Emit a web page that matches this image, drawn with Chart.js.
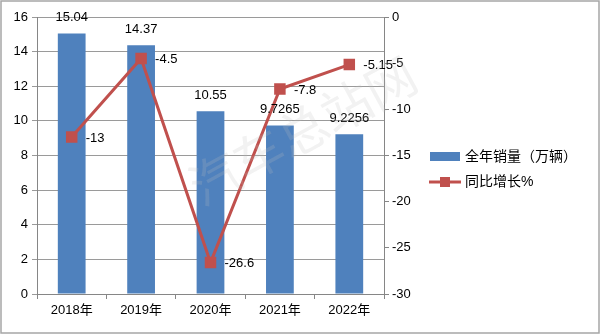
<!DOCTYPE html>
<html lang="zh">
<head>
<meta charset="UTF-8">
<script src="https://cdn.jsdelivr.net/npm/chart.js@4.4.0/dist/chart.umd.min.js"></script>
<style>
  html, body { margin: 0; padding: 0; background: #fff; }
  .wrap { width: 600px; height: 334px; position: relative; }
</style>
</head>
<body>
<div class="wrap"><canvas id="c" width="600" height="334"></canvas></div>
<script>
  // 数据
  const years = ['2018年', '2019年', '2020年', '2021年', '2022年'];
  const sales = [15.04, 14.37, 10.55, 9.7265, 9.2256];
  const growth = [-13, -4.5, -26.6, -7.8, -5.15];
  const salesName = '全年销量（万辆）';
  const growthName = '同比增长%';

  const FONT = "'Liberation Sans', 'Noto Sans CJK SC', sans-serif";
  const BLUE = '#4F81BD';
  const RED = '#C0504D';

  // 数值标签、图例、水印、边框
  const decor = {
    id: 'decor',
    beforeDraw(chart) {
      const ctx = chart.ctx;
      ctx.save();
      ctx.fillStyle = '#fff';
      ctx.fillRect(0, 0, chart.width, chart.height);
      ctx.restore();
    },
    afterDatasetsDraw(chart) {
      const ctx = chart.ctx;
      ctx.save();
      ctx.font = '13px ' + FONT;
      ctx.fillStyle = '#000';
      // 柱状标签
      chart.getDatasetMeta(0).data.forEach((bar, i) => {
        ctx.textAlign = 'center';
        ctx.textBaseline = 'middle';
        ctx.fillText(String(sales[i]), bar.x, bar.y - 16);
      });
      // 折线标签
      chart.getDatasetMeta(1).data.forEach((pt, i) => {
        ctx.textAlign = 'left';
        ctx.textBaseline = 'middle';
        ctx.fillText(String(growth[i]), pt.x + 14, pt.y + 1);
      });

      // 水印
      ctx.save();
      ctx.translate(305, 135);
      ctx.rotate(-0.5);
      ctx.font = '50px ' + FONT;
      ctx.fillStyle = 'rgba(190,190,190,0.2)';
      ctx.textAlign = 'center';
      ctx.textBaseline = 'middle';
      ctx.fillText('汽车总站网', 0, 0);
      ctx.restore();

      // 图例
      ctx.fillStyle = BLUE;
      ctx.fillRect(430, 152, 30, 9);
      ctx.strokeStyle = RED;
      ctx.lineWidth = 3;
      ctx.beginPath();
      ctx.moveTo(429, 182);
      ctx.lineTo(461, 182);
      ctx.stroke();
      ctx.fillStyle = RED;
      ctx.fillRect(440, 177, 10, 10);
      ctx.fillStyle = '#000';
      ctx.font = '14px ' + FONT;
      ctx.textAlign = 'left';
      ctx.textBaseline = 'middle';
      ctx.fillText(salesName, 465, 157);
      ctx.fillText(growthName, 465, 182);

      // 外框
      ctx.strokeStyle = '#a6a6a6';
      ctx.lineWidth = 1.5;
      ctx.strokeRect(1, 1, chart.width - 2, chart.height - 2);
      ctx.restore();
    }
  };

  new Chart(document.getElementById('c'), {
    type: 'bar',
    data: {
      labels: years,
      datasets: [
        {
          type: 'bar',
          label: salesName,
          data: sales,
          backgroundColor: BLUE,
          barPercentage: 0.4,
          categoryPercentage: 1,
          yAxisID: 'y',
          order: 2
        },
        {
          type: 'line',
          label: growthName,
          data: growth,
          borderColor: RED,
          borderWidth: 3,
          backgroundColor: RED,
          pointStyle: 'rect',
          pointRadius: 6,
          pointHoverRadius: 6,
          yAxisID: 'y1',
          order: 1
        }
      ]
    },
    options: {
      responsive: false,
      animation: false,
      events: [],
      layout: { padding: { left: 4, right: 186, top: 17, bottom: 10 } },
      plugins: { legend: { display: false }, tooltip: { enabled: false } },
      scales: {
        x: {
          afterFit(s) { s.height = 30; },
          grid: { offset: true, drawOnChartArea: false, color: '#868686', tickLength: 5 },
          border: { color: '#868686', width: 1 },
          ticks: { color: '#000', font: { family: FONT, size: 13 }, padding: 4 }
        },
        y: {
          position: 'left',
          min: 0, max: 16,
          afterFit(s) { s.width = 33; },
          ticks: { stepSize: 2, color: '#000', font: { family: FONT, size: 13 }, padding: 4 },
          grid: { color: '#9a9a9a', lineWidth: 1, tickLength: 5 },
          border: { color: '#868686', width: 1 }
        },
        y1: {
          position: 'right',
          min: -30, max: 0,
          afterFit(s) { s.width = 30; },
          ticks: { stepSize: 5, color: '#000', font: { family: FONT, size: 13 }, padding: 3 },
          grid: { drawOnChartArea: false, color: '#868686', tickLength: 5 },
          border: { color: '#868686', width: 1 }
        }
      }
    },
    plugins: [decor]
  });
</script>
</body>
</html>
